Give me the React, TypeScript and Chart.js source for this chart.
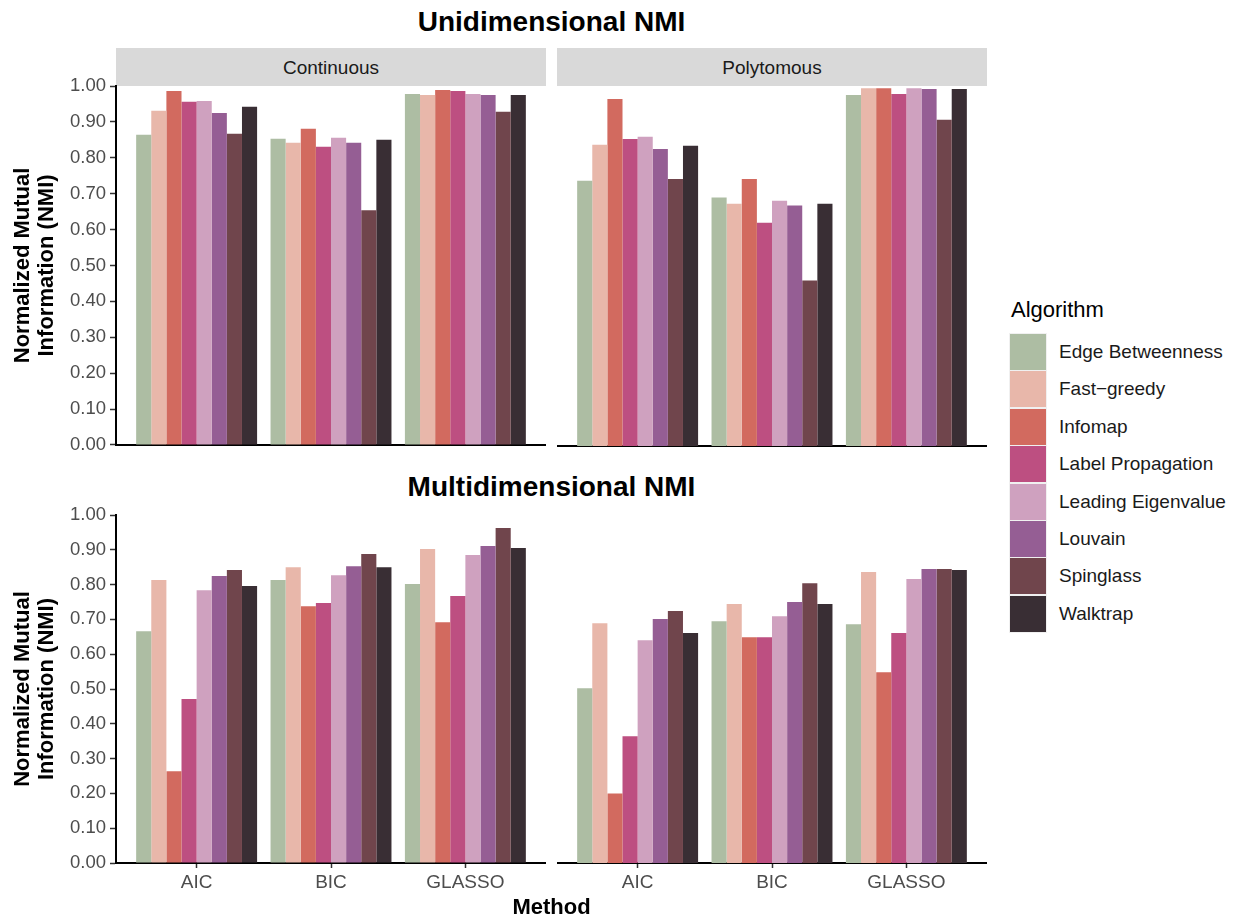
import React, { useEffect, useRef } from 'react';
import { Chart, registerables } from 'chart.js';

Chart.register(...registerables);

const FONT = '"Liberation Sans", Arial, Helvetica, sans-serif';

const algorithms = [
  'Edge Betweenness',
  'Fast\u2212greedy',
  'Infomap',
  'Label Propagation',
  'Leading Eigenvalue',
  'Louvain',
  'Spinglass',
  'Walktrap',
];

const methods = ['AIC', 'BIC', 'GLASSO'];

const colors = ['#ADBDA3', '#E8B7AA', '#D26A5F', '#BD4F81', '#CFA1BF', '#955E94', '#70454C', '#392E34'];

const yTicks = [0, 0.1, 0.2, 0.3, 0.4, 0.5, 0.6, 0.7, 0.8, 0.9, 1.0];

// values per algorithm: [AIC, BIC, GLASSO]
const uniContinuous = [
  [0.864, 0.853, 0.978],
  [0.931, 0.842, 0.975],
  [0.986, 0.881, 0.989],
  [0.956, 0.831, 0.986],
  [0.958, 0.856, 0.978],
  [0.925, 0.842, 0.975],
  [0.867, 0.654, 0.928],
  [0.942, 0.85, 0.975],
];

const uniPolytomous = [
  [0.737, 0.69, 0.975],
  [0.837, 0.673, 0.994],
  [0.964, 0.742, 0.994],
  [0.853, 0.62, 0.978],
  [0.859, 0.681, 0.994],
  [0.825, 0.668, 0.992],
  [0.742, 0.46, 0.906],
  [0.834, 0.673, 0.992],
];

const multiContinuous = [
  [0.666, 0.813, 0.802],
  [0.813, 0.85, 0.902],
  [0.264, 0.738, 0.692],
  [0.471, 0.747, 0.767],
  [0.784, 0.827, 0.885],
  [0.825, 0.853, 0.911],
  [0.842, 0.888, 0.963],
  [0.796, 0.85, 0.905],
];

const multiPolytomous = [
  [0.502, 0.695, 0.686],
  [0.689, 0.744, 0.836],
  [0.2, 0.649, 0.548],
  [0.364, 0.649, 0.661],
  [0.64, 0.709, 0.816],
  [0.701, 0.75, 0.845],
  [0.724, 0.804, 0.845],
  [0.661, 0.744, 0.842],
];

const facets = ['Continuous', 'Polytomous'];
const yTitle = ['Normalized Mutual', 'Information (NMI)'];

type PanelProps = {
  values: number[][];
  left: number;
  top: number;
  width: number;
  height: number;
  showY: boolean;
  showX: boolean;
};

function Panel({ values, left, top, width, height, showY, showX }: PanelProps) {
  const ref = useRef<HTMLCanvasElement>(null);
  useEffect(() => {
    const chart = new Chart(ref.current as HTMLCanvasElement, {
      type: 'bar',
      data: {
        datasets: algorithms.map((name, i) => ({
          label: name,
          data: methods.map((_, j) => ({ x: j, y: values[i][j] })),
          backgroundColor: colors[i],
          borderWidth: 0,
          categoryPercentage: 0.9,
          barPercentage: 1.0,
        })),
      },
      options: {
        animation: false,
        responsive: false,
        maintainAspectRatio: false,
        layout: { padding: { top: 16, left: 0, right: 0, bottom: 0 } },
        plugins: { legend: { display: false }, tooltip: { enabled: false } },
        scales: {
          x: {
            type: 'linear',
            min: -0.6,
            max: 2.6,
            offset: false,
            afterBuildTicks: (s: any) => {
              s.ticks = methods.map((_, i) => ({ value: i }));
            },
            afterFit: (s: any) => {
              s.height = showX ? 46 : 14;
            },
            grid: {
              display: true,
              offset: false,
              drawOnChartArea: false,
              drawTicks: showX,
              tickLength: 5,
              tickColor: '#333333',
              tickWidth: 1.5,
            },
            border: { display: true, color: '#000000', width: 2 },
            ticks: {
              display: showX,
              autoSkip: false,
              maxRotation: 0,
              padding: 3,
              color: '#4D4D4D',
              font: { family: FONT, size: 19 },
              callback: (v: any) => methods[Math.round(Number(v))] ?? '',
            },
          },
          y: {
            display: showY,
            min: 0,
            max: 1,
            afterBuildTicks: (s: any) => {
              s.ticks = yTicks.map((v) => ({ value: v }));
            },
            afterFit: (s: any) => {
              s.width = showY ? 116 : 0;
            },
            grid: {
              display: true,
              drawOnChartArea: false,
              drawTicks: true,
              tickLength: 6,
              tickColor: '#333333',
              tickWidth: 1.5,
            },
            border: { display: true, color: '#000000', width: 2 },
            ticks: {
              padding: 4,
              color: '#4D4D4D',
              font: { family: FONT, size: 18.5 },
              callback: (v: any) => Number(v).toFixed(2),
            },
            title: {
              display: true,
              text: yTitle,
              color: '#000000',
              font: { family: FONT, size: 22, weight: 'bold', lineHeight: 1.1 },
              padding: { top: 11, bottom: 0 },
            },
          },
        },
      } as any,
    });
    return () => chart.destroy();
  }, []);
  return (
    <canvas
      ref={ref}
      width={width}
      height={height}
      style={{ position: 'absolute', left, top, width, height }}
    />
  );
}

function Txt({ x, y, text, style }: { x: number; y: number; text: string; style?: React.CSSProperties }) {
  return (
    <div
      style={{
        position: 'absolute',
        left: x,
        top: y,
        transform: 'translate(-50%, -50%)',
        whiteSpace: 'nowrap',
        fontFamily: FONT,
        lineHeight: 1,
        ...style,
      }}
    >
      {text}
    </div>
  );
}

export default function App() {
  const L = { left: 0, width: 546 };
  const R = { left: 557, width: 430 };
  const top1 = 70;
  const h1 = 390;
  const top2 = 499;
  const h2 = 410;
  return (
    <div
      style={{
        position: 'absolute',
        left: 0,
        top: 0,
        width: 1238,
        height: 920,
        background: '#FFFFFF',
        overflow: 'hidden',
      }}
    >
      <Txt x={551.5} y={22} text="Unidimensional NMI" style={{ fontSize: 28, fontWeight: 'bold', color: '#000' }} />
      <Txt x={551.5} y={487} text="Multidimensional NMI" style={{ fontSize: 28, fontWeight: 'bold', color: '#000' }} />

      <div style={{ position: 'absolute', left: 116, top: 48, width: 430, height: 38, background: '#D9D9D9' }} />
      <div style={{ position: 'absolute', left: 557, top: 48, width: 430, height: 38, background: '#D9D9D9' }} />
      <Txt x={331} y={67} text={facets[0]} style={{ fontSize: 19, color: '#1A1A1A' }} />
      <Txt x={772} y={67} text={facets[1]} style={{ fontSize: 19, color: '#1A1A1A' }} />

      <Panel values={uniContinuous} left={L.left} top={top1} width={L.width} height={h1} showY={true} showX={false} />
      <Panel values={uniPolytomous} left={R.left} top={top1} width={R.width} height={h1} showY={false} showX={false} />
      <Panel values={multiContinuous} left={L.left} top={top2} width={L.width} height={h2} showY={true} showX={true} />
      <Panel values={multiPolytomous} left={R.left} top={top2} width={R.width} height={h2} showY={false} showX={true} />

      <Txt x={551.5} y={907} text="Method" style={{ fontSize: 22, fontWeight: 'bold', color: '#000' }} />

      <div
        style={{
          position: 'absolute',
          left: 1011,
          top: 299,
          fontFamily: FONT,
          fontSize: 22,
          lineHeight: 1,
          color: '#000',
          whiteSpace: 'nowrap',
        }}
      >
        Algorithm
      </div>
      {algorithms.map((name, i) => {
        const t = 334 + i * 37.4;
        return (
          <React.Fragment key={name}>
            <div
              style={{
                position: 'absolute',
                left: 1010,
                top: t,
                width: 36,
                height: 36,
                background: colors[i],
                boxShadow: '0 0 0 1px #F0F0F0',
              }}
            />
            <div
              style={{
                position: 'absolute',
                left: 1059,
                top: t,
                height: 36,
                display: 'flex',
                alignItems: 'center',
                fontFamily: FONT,
                fontSize: 19,
                color: '#1A1A1A',
                whiteSpace: 'nowrap',
              }}
            >
              {name}
            </div>
          </React.Fragment>
        );
      })}
    </div>
  );
}
